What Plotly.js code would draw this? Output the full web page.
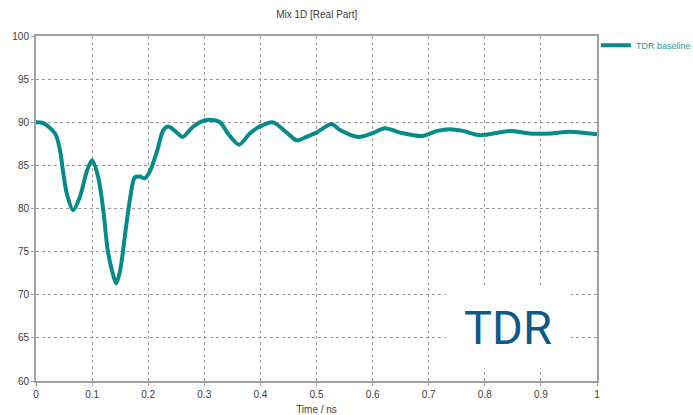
<!DOCTYPE html>
<html>
<head>
<meta charset="utf-8">
<script src="https://cdn.plot.ly/plotly-3.0.1.min.js"></script>
<style>html,body{margin:0;padding:0;background:#fff;}#chart{width:693px;height:415px;}</style>
</head>
<body>
<div id="chart"></div>
<script>
const chartTitle = 'Mix 1D [Real Part]';
const seriesName = 'TDR baseline';
const xTitle = 'Time / ns';
const overlayLabel = 'TDR';

const timeNs = [0, 0.013, 0.034, 0.043, 0.048, 0.055, 0.066, 0.078, 0.091, 0.100, 0.111, 0.120, 0.128, 0.137, 0.143, 0.150, 0.159, 0.168, 0.176, 0.185, 0.194, 0.203, 0.216, 0.227, 0.236, 0.251, 0.262, 0.277, 0.292, 0.307, 0.328, 0.342, 0.362, 0.381, 0.399, 0.422, 0.447, 0.465, 0.485, 0.500, 0.527, 0.542, 0.574, 0.599, 0.622, 0.649, 0.688, 0.715, 0.738, 0.761, 0.791, 0.845, 0.880, 0.916, 0.952, 1.0];
const impedance = [90.0, 89.9, 88.7, 86.7, 84.4, 81.7, 79.8, 81.3, 84.4, 85.6, 83.6, 79.8, 75.1, 72.4, 71.3, 72.8, 77.1, 81.3, 83.6, 83.7, 83.5, 84.3, 86.7, 89.1, 89.5, 88.8, 88.3, 89.3, 90.0, 90.3, 90.0, 88.7, 87.4, 88.7, 89.5, 90.0, 88.8, 87.9, 88.4, 88.8, 89.8, 89.1, 88.3, 88.7, 89.3, 88.8, 88.4, 89.0, 89.2, 89.0, 88.5, 89.0, 88.7, 88.7, 88.9, 88.6];

const trace = {
  x: timeNs, y: impedance, type: 'scatter', mode: 'lines', name: seriesName,
  line: {color: '#078a8a', width: 4, shape: 'spline', smoothing: 0.8}
};

const axisCommon = {
  showline: true, mirror: true, linecolor: '#a0a0a0', linewidth: 2,
  showgrid: true, gridcolor: '#9a9a9a', griddash: 'dot', gridwidth: 1,
  zeroline: false, ticks: 'outside', ticklen: 3, tickcolor: '#a0a0a0',
  tickfont: {family: 'Liberation Sans, Arial, sans-serif', size: 10, color: '#404040'}
};

const layout = {
  width: 693, height: 415,
  margin: {l: 36, r: 96, t: 36, b: 34, autoexpand: false},
  paper_bgcolor: '#fff', plot_bgcolor: '#fff',
  title: {text: chartTitle, x: 0.457, xanchor: 'center', y: 0.965, yanchor: 'middle',
          font: {family: 'Liberation Sans, Arial, sans-serif', size: 10, color: '#404040'}},
  xaxis: Object.assign({}, axisCommon, {range: [0, 1], dtick: 0.1, tick0: 0,
    title: {text: xTitle, standoff: 8, font: {family: 'Liberation Sans, Arial, sans-serif', size: 10, color: '#404040'}}}),
  yaxis: Object.assign({}, axisCommon, {range: [60, 100], dtick: 5, tick0: 60}),
  showlegend: true,
  legend: {x: 0.998, xanchor: 'left', y: 1.015, yanchor: 'top', bgcolor: 'rgba(0,0,0,0)',
           font: {family: 'Liberation Sans, Arial, sans-serif', size: 9, color: '#2b9b9b'},
           itemwidth: 30},
  annotations: [{
    text: overlayLabel, xref: 'paper', yref: 'paper', x: 0.841, y: 0.157,
    xanchor: 'center', yanchor: 'middle', showarrow: false,
    bgcolor: '#ffffff', width: 122, height: 80,
    font: {family: 'Roboto, sans-serif', size: 47, color: '#0b5a88'}
  }]
};

Plotly.newPlot('chart', [trace], layout, {displayModeBar: false, staticPlot: true});
</script>
</body>
</html>
